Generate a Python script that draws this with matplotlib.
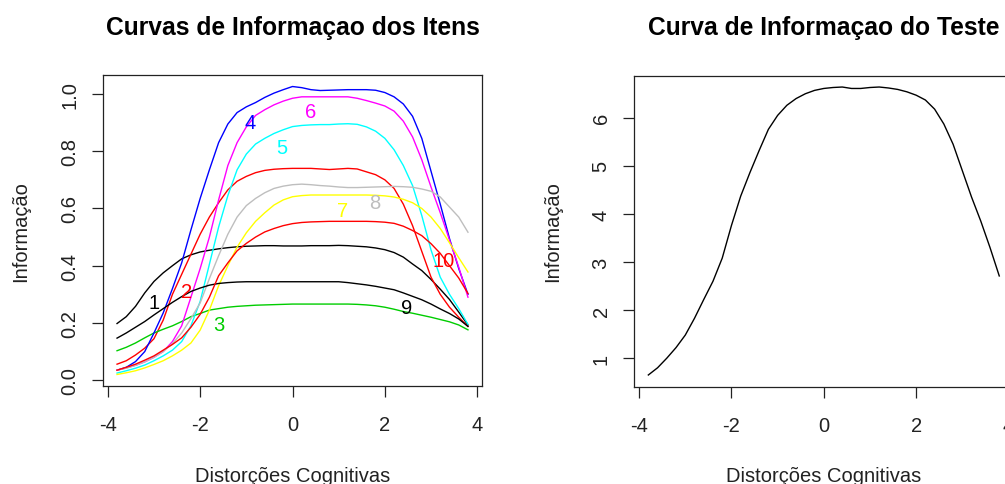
import numpy as np
import matplotlib
matplotlib.use("Agg")
import matplotlib.pyplot as plt

plt.rcParams["font.family"] = ["Liberation Sans", "DejaVu Sans"]

# Ability grid (latent trait)
theta = [-3.8, -3.6, -3.4, -3.2, -3.0, -2.8, -2.6, -2.4, -2.2, -2.0,
         -1.8, -1.6, -1.4, -1.2, -1.0, -0.8, -0.6, -0.4, -0.2, 0.0,
         0.2, 0.4, 0.6, 0.8, 1.0, 1.2, 1.4, 1.6, 1.8, 2.0,
         2.2, 2.4, 2.6, 2.8, 3.0, 3.2, 3.4, 3.6, 3.8]

# Item information curves
item1 = [.198, .222, .258, .305, .345, .375, .400, .424, .438, .448,
         .454, .459, .463, .466, .468, .469, .470, .470, .469, .469,
         .469, .470, .470, .470, .471, .470, .468, .466, .462, .456,
         .446, .430, .406, .383, .352, .318, .282, .238, .193]
item2 = [.056, .068, .088, .112, .145, .210, .300, .370, .440, .510,
         .570, .620, .665, .695, .712, .725, .733, .737, .739, .740,
         .740, .740, .738, .736, .738, .740, .738, .728, .718, .700,
         .670, .615, .540, .450, .360, .300, .255, .220, .188]
item3 = [.103, .115, .130, .148, .165, .178, .190, .205, .222, .233,
         .245, .250, .255, .258, .260, .262, .263, .264, .265, .266,
         .266, .266, .266, .266, .266, .266, .265, .263, .260, .255,
         .248, .240, .234, .227, .220, .212, .204, .193, .176]
item4 = [.035, .045, .065, .100, .165, .235, .320, .410, .525, .635,
         .735, .830, .895, .935, .955, .970, .988, 1.003, 1.015, 1.026,
         1.022, 1.015, 1.012, 1.013, 1.014, 1.015, 1.015, 1.015, 1.013, 1.005,
         .990, .965, .922, .845, .730, .615, .495, .390, .300]
item5 = [.025, .033, .042, .053, .068, .085, .105, .135, .190, .275,
         .405, .535, .645, .735, .790, .825, .845, .862, .875, .886,
         .890, .892, .893, .893, .895, .896, .894, .885, .870, .845,
         .805, .750, .680, .575, .455, .360, .300, .250, .195]
item6 = [.035, .043, .052, .064, .080, .100, .135, .190, .290, .390,
         .500, .630, .750, .830, .885, .925, .945, .962, .975, .985,
         .990, .990, .990, .990, .990, .990, .985, .977, .968, .958,
         .940, .905, .850, .770, .675, .585, .490, .395, .290]
item7 = [.020, .026, .033, .043, .055, .068, .085, .105, .130, .175,
         .245, .330, .400, .465, .515, .555, .585, .612, .630, .641,
         .645, .647, .647, .647, .647, .647, .647, .647, .646, .644,
         .640, .632, .620, .600, .570, .530, .480, .428, .378]
item8 = [.035, .042, .052, .064, .080, .100, .128, .165, .215, .270,
         .355, .435, .510, .570, .610, .635, .655, .670, .678, .683,
         .685, .683, .680, .678, .675, .673, .673, .674, .675, .676,
         .677, .676, .674, .668, .660, .640, .605, .570, .517]
item9 = [.147, .165, .185, .205, .228, .250, .272, .292, .310, .322,
         .332, .338, .341, .343, .344, .344, .344, .344, .344, .344,
         .344, .344, .344, .344, .344, .341, .337, .333, .328, .322,
         .316, .305, .293, .281, .266, .249, .233, .214, .188]
item10 = [.035, .045, .056, .070, .085, .105, .125, .148, .185, .230,
          .290, .365, .410, .452, .478, .500, .518, .530, .540, .547,
          .551, .553, .554, .555, .555, .555, .555, .555, .554, .552,
          .548, .538, .523, .505, .477, .443, .400, .357, .303]

# Test information curve
test_info = [0.65, 0.80, 1.00, 1.22, 1.48, 1.83, 2.22, 2.60, 3.08, 3.76,
             4.37, 4.86, 5.32, 5.76, 6.05, 6.26, 6.40, 6.50, 6.57, 6.61,
             6.63, 6.64, 6.61, 6.61, 6.63, 6.64, 6.62, 6.59, 6.54, 6.47,
             6.37, 6.18, 5.87, 5.45, 4.90, 4.35, 3.85, 3.30, 2.71]

item_labels = ["1", "2", "3", "4", "5", "6", "7", "8", "9", "10"]
item_colors = ["#000000", "#FF0000", "#00CD00", "#0000FF", "#00FFFF",
               "#FF00FF", "#FFFF00", "#BEBEBE", "#000000", "#FF0000"]
# abscissae where each item number is written
label_theta = [-3.109, -2.418, -1.727, -1.036, -0.345,
               0.269, 0.960, 1.651, 2.341, 3.032]

x_ticks = [-4, -2, 0, 2, 4]
item_yticks = [0.0, 0.2, 0.4, 0.6, 0.8, 1.0]
test_yticks = [1, 2, 3, 4, 5, 6]

items = [item1, item2, item3, item4, item5, item6, item7, item8, item9, item10]

W, H = 1005, 485
fig = plt.figure(figsize=(W / 100, H / 100), dpi=100)
fig.patch.set_facecolor("white")

ax_w = 379 / W
ax_h = 311 / H
ax1 = fig.add_axes([103 / W, 1 - 387 / H, ax_w, ax_h])
ax2 = fig.add_axes([634.3 / W, 1 - 387.5 / H, ax_w, ax_h])


def r_limits(vals):
    lo, hi = min(vals), max(vals)
    pad = 0.04 * (hi - lo)
    return lo - pad, hi + pad


FS = 14.5
for ax in (ax1, ax2):
    for sp in ax.spines.values():
        sp.set_linewidth(0.9)
        sp.set_color("#222222")
    ax.tick_params(direction="out", length=8, width=0.9, colors="#222222",
                   labelsize=FS, labelcolor="#222222")
    ax.tick_params(axis="x", pad=13)
    ax.tick_params(axis="y", pad=9)
    ax.set_xlim(*r_limits(theta))
    ax.set_xticks(x_ticks)
    ax.set_xticklabels([str(t) for t in x_ticks])

# Left panel: item information curves
for vals, col in zip(items, item_colors):
    ax1.plot(theta, vals, color=col, lw=1.0)
for lab, col, zt, vals in zip(item_labels, item_colors, label_theta, items):
    yv = np.interp(zt, theta, vals)
    ax1.annotate(lab, (zt, yv), xytext=(0, -4), textcoords="offset points",
                 color=col, fontsize=FS, ha="left", va="top")
all_item_vals = [v for s in items for v in s]
ax1.set_ylim(*r_limits(all_item_vals))
ax1.set_yticks(item_yticks)
ax1.set_yticklabels([f"{t:.1f}" for t in item_yticks], rotation=90, va="center")

# Right panel: test information curve
ax2.plot(theta, test_info, color="black", lw=1.0)
ax2.set_ylim(*r_limits(test_info))
ax2.set_yticks(test_yticks)
ax2.set_yticklabels([str(t) for t in test_yticks], rotation=90, va="center")

titles = ["Curvas de Informaçao dos Itens", "Curva de Informaçao do Teste"]
for ax, ttl in zip((ax1, ax2), titles):
    ax.text(0.5, 1 + (76 - 28) / 311, ttl, transform=ax.transAxes,
            ha="center", va="center", fontsize=17.7, fontweight="bold")
    ax.text(0.5, -(476 - 387) / 311, "Distorções Cognitivas", transform=ax.transAxes,
            ha="center", va="center", fontsize=FS, color="#222222")
    ax.text(-(103 - 21) / 379, 0.5, "Informação", transform=ax.transAxes,
            ha="center", va="center", rotation=90, fontsize=FS, color="#222222")

fig.savefig("out.png", dpi=100)
